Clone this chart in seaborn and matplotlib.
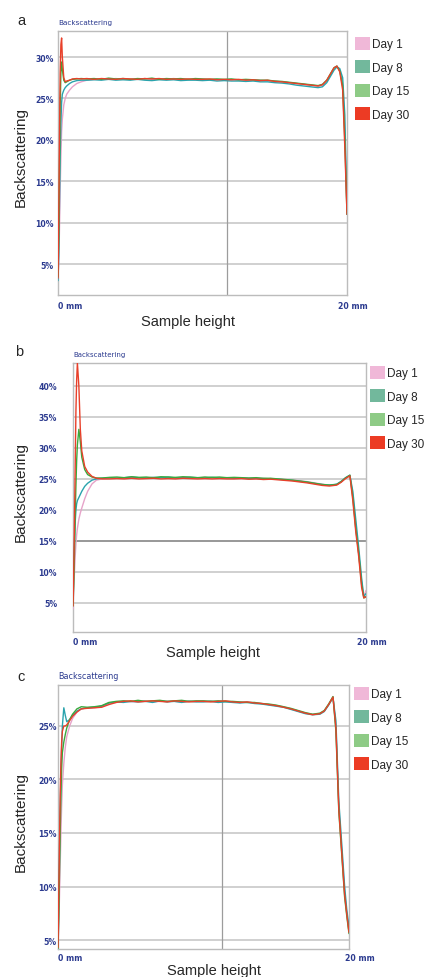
import matplotlib
matplotlib.use("Agg")
import matplotlib.pyplot as plt
import matplotlib.transforms as mtransforms
from matplotlib.patches import Patch
import pandas as pd
import seaborn as sns

# ---------------- data ----------------
X_MM = [0.0, 0.05, 0.1, 0.15, 0.2, 0.25, 0.3, 0.4, 0.5, 0.6, 0.8, 1.0, 1.3, 1.6, 2.0,
        2.5, 3.0, 3.5, 4.0, 4.5, 5.0, 5.5, 6.0, 6.5, 7.0, 7.5, 8.0, 8.5, 9.0, 9.5,
        10.0, 10.5, 11.0, 11.5, 12.0, 12.5, 13.0, 13.5, 14.0, 14.5, 15.0, 15.5, 16.0, 16.5,
        17.0, 17.5, 18.0, 18.3, 18.6, 18.9, 19.1, 19.3, 19.5, 19.7, 19.85, 20.0]

DAYS = ["Day 1", "Day 8", "Day 15", "Day 30"]

# panel a
A_DAY1 = [3.3, 5.0, 9.0, 14.0, 18.0, 21.0, 22.5, 24.2, 25.0, 25.5, 26.0, 26.4, 26.8, 27.0, 27.2,
          27.3, 27.35, 27.3, 27.4, 27.3, 27.35, 27.3, 27.4, 27.3, 27.35, 27.3, 27.4, 27.3, 27.3, 27.35,
          27.3, 27.25, 27.3, 27.25, 27.3, 27.2, 27.25, 27.2, 27.2, 27.1, 27.1, 27.0, 26.9, 26.8,
          26.7, 26.6, 26.5, 26.6, 27.1, 28.0, 28.6, 28.9, 28.4, 26.8, 21.0, 11.5]
A_DAY8 = [3.0, 6.0, 12.0, 18.0, 22.0, 24.5, 25.5, 26.0, 26.3, 26.5, 26.8, 27.0, 27.15, 27.2, 27.2,
          27.25, 27.2, 27.3, 27.2, 27.25, 27.2, 27.3, 27.2, 27.15, 27.25, 27.2, 27.25, 27.15, 27.2, 27.2,
          27.15, 27.2, 27.1, 27.15, 27.1, 27.1, 27.05, 27.1, 27.0, 27.0, 26.9, 26.85, 26.75, 26.6,
          26.5, 26.4, 26.3, 26.4, 26.9, 27.8, 28.4, 28.8, 28.6, 27.5, 23.0, 11.0]
A_DAY15 = [3.5, 8.0, 16.0, 24.0, 28.0, 29.4, 28.5, 27.2, 26.9, 27.0, 27.2, 27.3, 27.35, 27.4, 27.35,
           27.4, 27.3, 27.45, 27.35, 27.4, 27.3, 27.4, 27.35, 27.45, 27.3, 27.4, 27.35, 27.4, 27.3, 27.4,
           27.35, 27.3, 27.35, 27.3, 27.35, 27.25, 27.3, 27.25, 27.2, 27.2, 27.1, 27.05, 26.95, 26.85,
           26.75, 26.65, 26.55, 26.7, 27.2, 28.1, 28.7, 28.9, 28.3, 26.5, 20.0, 11.0]
A_DAY30 = [3.3, 10.0, 20.0, 28.0, 31.5, 32.3, 30.0, 27.5, 27.0, 27.1, 27.2, 27.35, 27.4, 27.35, 27.4,
           27.3, 27.4, 27.35, 27.3, 27.4, 27.35, 27.3, 27.4, 27.35, 27.4, 27.3, 27.35, 27.3, 27.35, 27.3,
           27.3, 27.35, 27.25, 27.3, 27.25, 27.3, 27.2, 27.25, 27.15, 27.2, 27.05, 27.0, 26.9, 26.8,
           26.7, 26.6, 26.5, 26.65, 27.2, 28.1, 28.7, 28.9, 28.2, 26.0, 19.0, 11.0]

# panel b
B_DAY1 = [4.0, 7.0, 10.0, 12.5, 14.5, 16.0, 17.0, 18.5, 19.5, 20.3, 21.8, 23.0, 24.2, 24.8, 25.0,
          25.1, 25.2, 25.1, 25.25, 25.15, 25.2, 25.1, 25.25, 25.15, 25.2, 25.1, 25.2, 25.15, 25.25, 25.1,
          25.2, 25.1, 25.15, 25.1, 25.1, 25.05, 25.1, 25.0, 25.0, 24.9, 24.8, 24.7, 24.55, 24.35,
          24.15, 24.0, 24.1, 24.5, 25.1, 25.5, 22.5, 17.5, 13.0, 8.5, 6.0, 7.0]
B_DAY8 = [5.0, 10.0, 15.0, 18.0, 20.0, 21.0, 21.5, 22.0, 22.5, 23.0, 23.8, 24.3, 24.8, 25.0, 25.1,
          25.2, 25.1, 25.2, 25.3, 25.2, 25.15, 25.25, 25.2, 25.3, 25.15, 25.2, 25.25, 25.2, 25.15, 25.25,
          25.15, 25.2, 25.1, 25.15, 25.05, 25.1, 25.0, 25.05, 24.95, 24.85, 24.75, 24.6, 24.45, 24.25,
          24.1, 24.0, 24.15, 24.6, 25.2, 25.6, 23.0, 18.5, 14.0, 9.0, 6.0, 6.5]
B_DAY15 = [4.5, 8.0, 13.0, 19.0, 24.0, 28.0, 30.5, 33.0, 31.0, 28.5, 26.5, 25.7, 25.3, 25.15, 25.15,
           25.25, 25.3, 25.2, 25.35, 25.25, 25.3, 25.2, 25.35, 25.3, 25.25, 25.35, 25.3, 25.2, 25.3, 25.25,
           25.3, 25.2, 25.25, 25.2, 25.15, 25.2, 25.1, 25.1, 25.0, 24.9, 24.8, 24.65, 24.5, 24.3,
           24.1, 24.0, 24.1, 24.55, 25.15, 25.6, 22.0, 17.0, 13.0, 8.0, 5.8, 6.0]
B_DAY30 = [4.5, 10.0, 18.0, 27.0, 36.0, 41.0, 43.7, 40.0, 33.0, 29.5, 27.0, 26.1, 25.4, 25.1, 25.0,
           25.0, 25.05, 25.0, 25.1, 25.0, 25.05, 25.1, 25.0, 25.05, 25.0, 25.1, 25.05, 25.0, 25.05, 25.0,
           25.05, 25.0, 25.0, 25.05, 24.95, 25.0, 24.9, 24.95, 24.85, 24.75, 24.65, 24.5, 24.35, 24.15,
           23.95, 23.85, 24.0, 24.45, 25.05, 25.5, 21.5, 16.5, 12.5, 7.5, 5.8, 6.0]

# panel c
C_DAY1 = [4.3, 6.0, 9.0, 12.0, 15.0, 17.5, 19.5, 21.5, 23.0, 24.0, 25.0, 25.7, 26.3, 26.6, 26.7,
          26.7, 26.8, 27.1, 27.2, 27.3, 27.25, 27.3, 27.35, 27.25, 27.3, 27.35, 27.3, 27.25, 27.35, 27.3,
          27.3, 27.35, 27.25, 27.3, 27.25, 27.2, 27.25, 27.15, 27.1, 27.0, 26.9, 26.8, 26.6, 26.4,
          26.2, 26.1, 26.15, 26.4, 27.0, 27.7, 25.0, 17.5, 13.5, 9.5, 7.5, 5.8]
C_DAY8 = [4.5, 8.0, 13.0, 17.0, 20.5, 23.0, 25.0, 26.7, 26.0, 25.4, 25.6, 26.0, 26.4, 26.6, 26.7,
          26.75, 26.85, 27.15, 27.25, 27.2, 27.3, 27.25, 27.3, 27.2, 27.35, 27.25, 27.3, 27.2, 27.3, 27.25,
          27.25, 27.3, 27.2, 27.25, 27.2, 27.15, 27.2, 27.1, 27.05, 26.95, 26.85, 26.75, 26.55, 26.35,
          26.15, 26.05, 26.1, 26.35, 26.95, 27.65, 25.5, 18.0, 14.0, 10.0, 7.8, 6.2]
C_DAY15 = [4.2, 7.0, 11.0, 15.0, 18.5, 21.0, 22.5, 23.5, 24.2, 24.8, 25.6, 26.1, 26.6, 26.8, 26.75,
           26.8, 26.9, 27.2, 27.3, 27.35, 27.3, 27.4, 27.3, 27.35, 27.4, 27.3, 27.35, 27.4, 27.3, 27.35,
           27.35, 27.3, 27.35, 27.3, 27.3, 27.25, 27.2, 27.2, 27.1, 27.05, 26.95, 26.8, 26.65, 26.45,
           26.25, 26.1, 26.2, 26.45, 27.05, 27.75, 24.5, 17.0, 13.0, 9.0, 7.2, 5.6]
C_DAY30 = [4.3, 9.0, 14.0, 18.5, 21.5, 23.5, 24.5, 25.0, 25.0, 25.1, 25.5, 25.9, 26.3, 26.6, 26.65,
           26.7, 26.75, 27.0, 27.2, 27.3, 27.35, 27.25, 27.3, 27.35, 27.3, 27.25, 27.35, 27.3, 27.25, 27.3,
           27.3, 27.25, 27.3, 27.35, 27.25, 27.2, 27.25, 27.15, 27.1, 27.0, 26.9, 26.75, 26.6, 26.4,
           26.2, 26.05, 26.15, 26.4, 27.0, 27.7, 24.8, 17.2, 13.2, 9.2, 7.4, 5.7]

A_YTICKS = [5, 10, 15, 20, 25, 30]
B_YTICKS = [5, 10, 15, 20, 25, 30, 35, 40]
C_YTICKS = [5, 10, 15, 20, 25]
X_TICKS = [0, 20]
X_TICK_LABELS = ["0 mm", "20 mm"]
PANEL_LETTERS = ["a", "b", "c"]
TITLE = "Backscattering"
YLABEL = "Backscattering"
XLABEL = "Sample height"

# ---------------- style ----------------
sns.set_style("white")
plt.rcParams["font.family"] = ["Liberation Sans", "DejaVu Sans"]

W, H = 427, 978
fig = plt.figure(figsize=(W / 100, H / 100), dpi=100)


def fx(px):
    return px / W


def fy(py):
    return 1 - py / H


BLUE = "#2b3a8f"
LINE_COLORS = {"Day 1": "#e6a3c9", "Day 8": "#2aa3ad", "Day 15": "#3aa93d", "Day 30": "#e8402a"}
SWATCH_COLORS = ["#f0b8d8", "#72b89c", "#8ecb86", "#ec3b24"]

panels = [
    dict(series=[A_DAY1, A_DAY8, A_DAY15, A_DAY30], box=(58, 32, 347, 296),
         ylim=(1.26, 33.14), yticks=A_YTICKS, vline=11.7, dark=None,
         ylab=(21, 157), xlab=(188, 322), letter=(21, 21), title_size=5.2,
         legend=(355, 38), ypad=3.0, xpad=4.0, x20shift=-9),
    dict(series=[B_DAY1, B_DAY8, B_DAY15, B_DAY30], box=(73, 364, 366, 633),
         ylim=(0.3, 43.7), yticks=B_YTICKS, vline=None, dark=15,
         ylab=(21, 492), xlab=(213, 653), letter=(19, 352), title_size=5.0,
         legend=(370, 367), ypad=11.5, xpad=3.5, x20shift=-9),
    dict(series=[C_DAY1, C_DAY8, C_DAY15, C_DAY30], box=(58, 686, 349, 950),
         ylim=(4.16, 28.83), yticks=C_YTICKS, vline=11.3, dark=None,
         ylab=(21, 822), xlab=(214, 971), letter=(21, 677), title_size=5.8,
         legend=(354, 688), ypad=0.8, xpad=3.0, x20shift=-4),
]

for letter, p in zip(PANEL_LETTERS, panels):
    l, t, r, b = p["box"]
    ax = fig.add_axes([fx(l), fy(b), (r - l) / W, (b - t) / H])

    frames = []
    for day, vals in zip(DAYS, p["series"]):
        frames.append(pd.DataFrame({"x": X_MM, "y": vals, "day": day}))
    df = pd.concat(frames, ignore_index=True)

    # grid first
    for yt in p["yticks"]:
        ax.axhline(yt, color="#c4c4c4", lw=1.1, zorder=0)
    if p["dark"] is not None:
        ax.axhline(p["dark"], color="#8a8a8a", lw=1.1, zorder=0)
    if p["vline"] is not None:
        ax.axvline(p["vline"], color="#9c9c9c", lw=0.9, zorder=0)

    sns.lineplot(data=df, x="x", y="y", hue="day", hue_order=DAYS,
                 palette=LINE_COLORS, estimator=None, sort=False,
                 lw=1.0, legend=False, ax=ax, zorder=3)

    ax.set_xlim(0, 20)
    ax.set_ylim(*p["ylim"])
    ax.set_yticks(p["yticks"])
    ax.set_yticklabels([f"{v}%" for v in p["yticks"]])
    ax.set_xticks(X_TICKS)
    ax.set_xticklabels(X_TICK_LABELS)
    ax.tick_params(axis="y", length=0, pad=p["ypad"], labelsize=5.6, labelcolor=BLUE)
    ax.tick_params(axis="x", length=0, pad=p["xpad"], labelsize=5.6, labelcolor=BLUE)
    for lab in ax.get_yticklabels() + ax.get_xticklabels():
        lab.set_fontweight("bold")
        lab.set_family(["DejaVu Sans"])
    xl = ax.get_xticklabels()
    xl[0].set_ha("left")
    xl[1].set_ha("left")
    xl[1].set_transform(xl[1].get_transform() +
                        mtransforms.ScaledTranslation(p["x20shift"] / 100, 0, fig.dpi_scale_trans))

    for s in ax.spines.values():
        s.set_color("#bcbcbc")
        s.set_linewidth(1.0)
        s.set_visible(True)

    ax.set_title(TITLE, loc="left", fontsize=p["title_size"], color=BLUE, pad=5,
                 family=["DejaVu Sans"])

    ax.set_ylabel(YLABEL, fontsize=11, va="center")
    ax.yaxis.set_label_coords(fx(p["ylab"][0]), fy(p["ylab"][1]), transform=fig.transFigure)
    ax.set_xlabel(XLABEL, fontsize=10.5, va="center")
    ax.xaxis.set_label_coords(fx(p["xlab"][0]), fy(p["xlab"][1]), transform=fig.transFigure)

    fig.text(fx(p["letter"][0]), fy(p["letter"][1]), letter, fontsize=10.5,
             ha="center", va="center")

    handles = [Patch(facecolor=c, edgecolor="none", label=d) for c, d in zip(SWATCH_COLORS, DAYS)]
    ax.legend(handles=handles, loc="upper left",
              bbox_to_anchor=(fx(p["legend"][0]), fy(p["legend"][1])),
              bbox_transform=fig.transFigure, frameon=False, borderaxespad=0,
              borderpad=0, handlelength=1.3, handleheight=1.3, handletextpad=0.15,
              labelspacing=0.85, fontsize=8.5)

fig.savefig("out.png", dpi=100)
